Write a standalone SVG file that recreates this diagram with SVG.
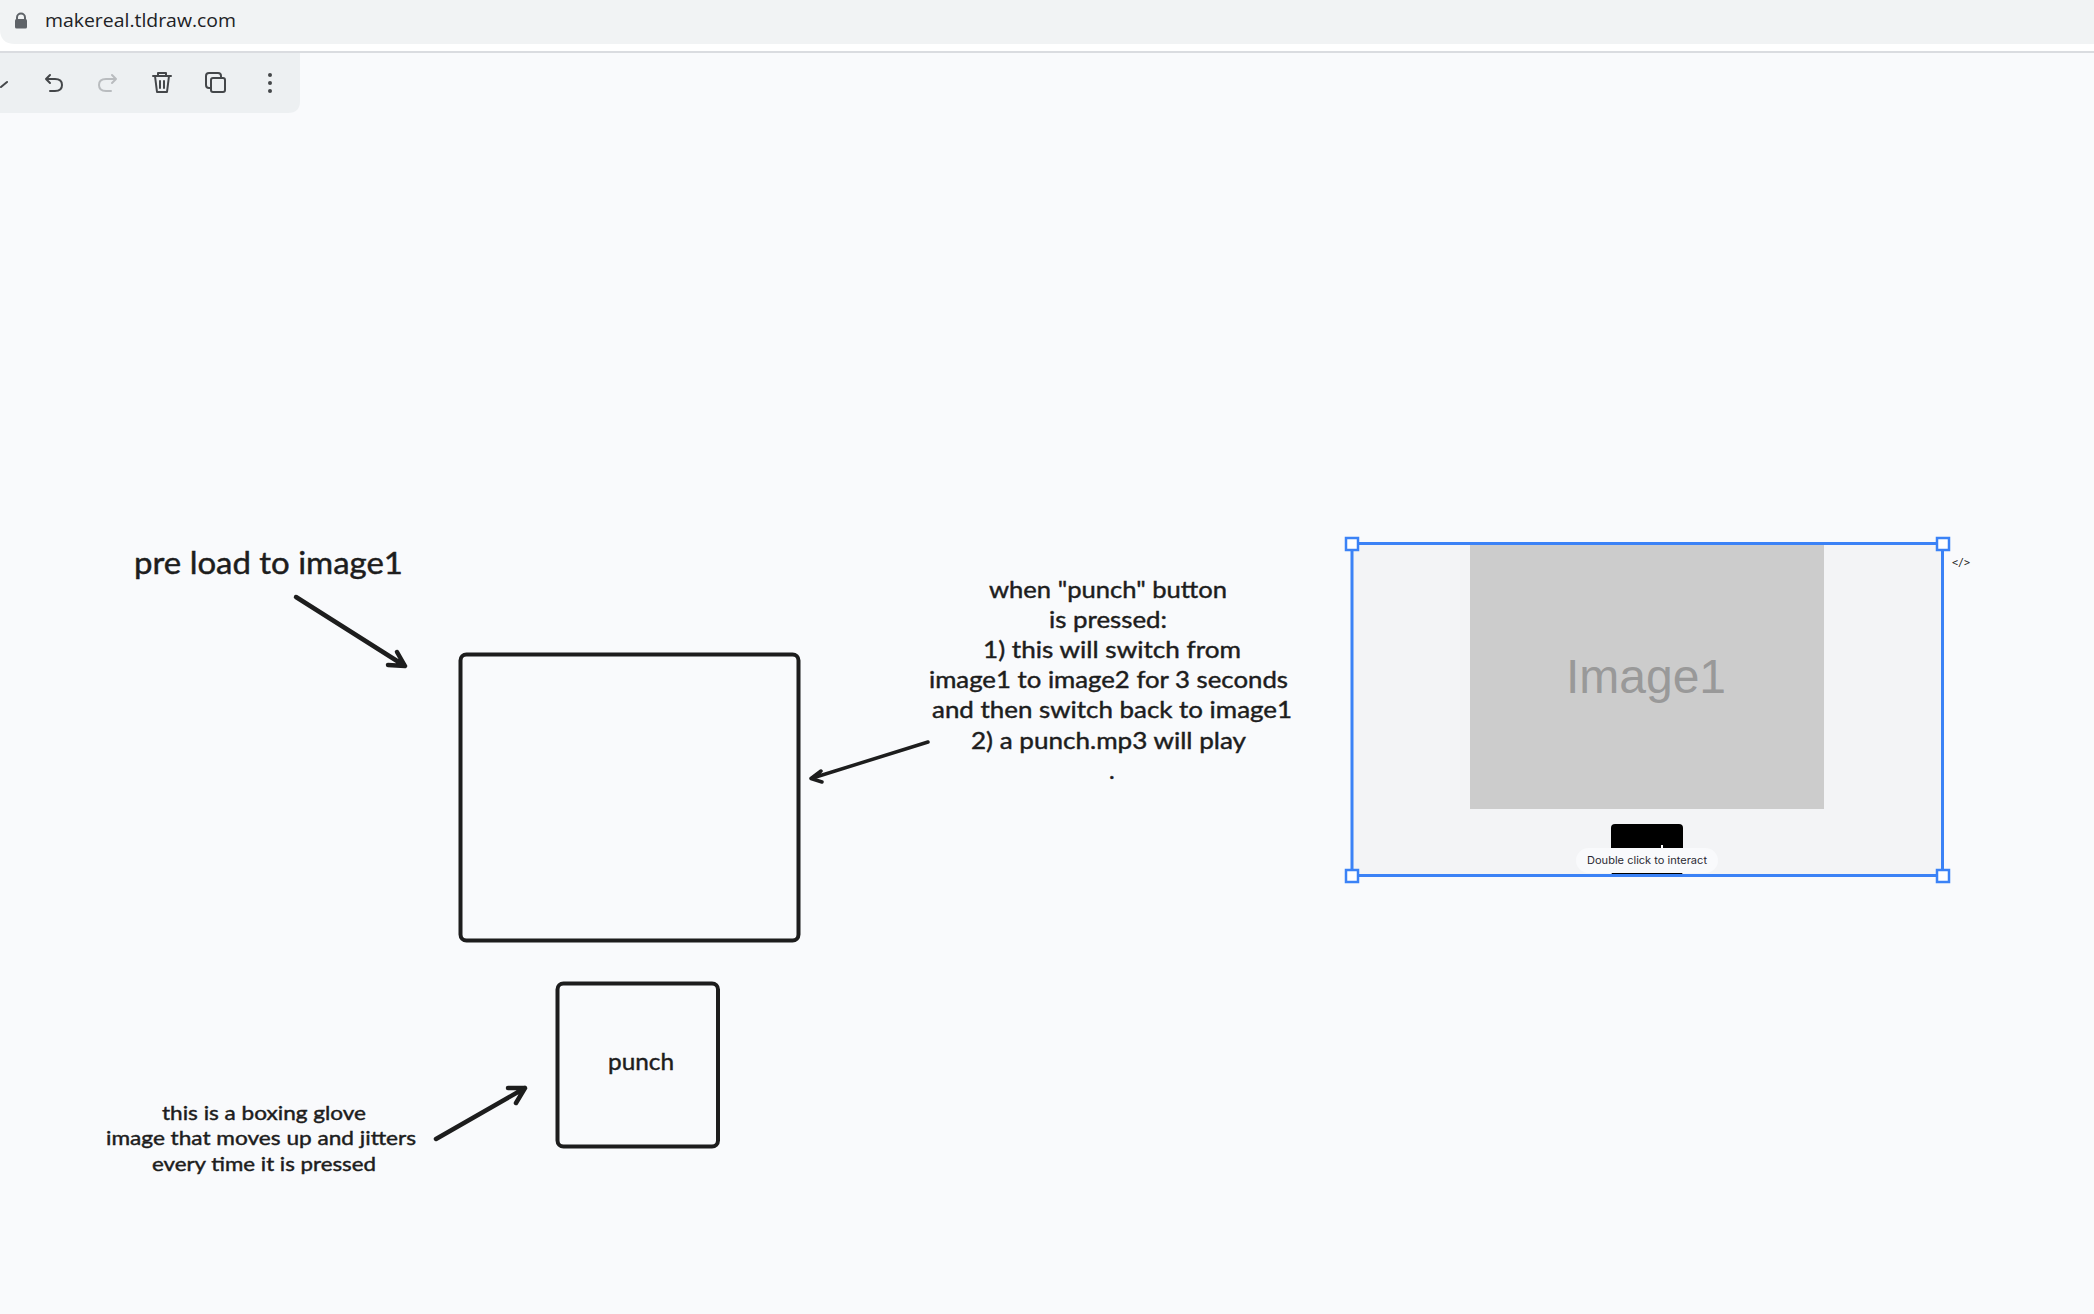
<svg xmlns="http://www.w3.org/2000/svg" width="2094" height="1314" viewBox="0 0 2094 1314">
<style>
.hand{font-family:"Lato","Noto Sans",sans-serif;font-weight:400;fill:#1d1d1d;stroke:#1d1d1d;stroke-width:.45;text-anchor:start}
.box{fill:none;stroke:#1d1d1d;stroke-width:4;stroke-linejoin:round}
.arr{fill:none;stroke:#1d1d1d;stroke-linecap:round;stroke-linejoin:round}
.ico{fill:none;stroke:#44474a;stroke-width:2;stroke-linecap:round;stroke-linejoin:round}
.hdl{fill:#fff;stroke:#3b82f6;stroke-width:2.5}
</style>
<rect width="2094" height="1314" fill="#f9fafc"/>
<g id="browser-bar">
<rect y="0" width="2094" height="51" fill="#fff"/>
<rect y="51" width="2094" height="2" fill="#dadce0"/>
<path d="M0 0H2094V44H15Q0 44 0 29Z" fill="#f1f3f4"/>
<path d="M17 20v-2.500a4 4 0 0 1 8 0V20" fill="none" stroke="#5f6368" stroke-width="2"/>
<rect x="15" y="19" width="12" height="9.500" rx="1.500" fill="#5f6368"/>
<text x="45" y="26.500" font-family="Open Sans,Noto Sans,sans-serif" font-size="19" fill="#202124" textLength="191" lengthAdjust="spacingAndGlyphs">makereal.tldraw.com</text>
</g>
<g id="toolbar">
<path d="M0 53H300V101Q300 113 288 113H0Z" fill="#edf0f2"/>
<path class="ico" d="M1 87L7 82"/>
<path class="ico" d="M50 75L46 79L50 83M46 79H55Q62 79 62 85Q62 91 55 91H50"/>
<path class="ico" style="stroke:#b9bcbf" d="M112 75L116 79L112 83M116 79H106Q99 79 99 85Q99 91 106 91H111"/>
<path class="ico" d="M153 76H171M158 76V73H166V76M155 76L157 92H167L169 76M160 81V88M164 81V88"/>
<rect class="ico" x="211" y="78" width="14" height="14" rx="2"/>
<path class="ico" d="M211 88H209Q206 88 206 85V76Q206 73 209 73H218Q221 73 221 76V78"/>
<g fill="#44474a"><circle cx="270" cy="75" r="2"/><circle cx="270" cy="83" r="2"/><circle cx="270" cy="91" r="2"/></g>
</g>
<g id="connectors">
<path class="arr" stroke-width="4.500" d="M296 597L405 666M397 652L405 666L388 665"/>
<path class="arr" stroke-width="3.500" d="M928 742L811 778.500M821 771L811 778.500L822 782"/>
<path class="arr" stroke-width="4.500" d="M436 1139L525 1088M508 1088L525 1088L516 1103"/>
</g>
<g id="label-preload"><text class="hand" x="134" y="574" font-size="30" textLength="269" lengthAdjust="spacingAndGlyphs">pre load to image1</text></g>
<g id="image-box"><rect class="box" x="460.500" y="654.500" width="338" height="286" rx="6"/></g>
<g id="punch-button"><rect class="box" x="557.500" y="983.500" width="160.500" height="163" rx="6"/>
<text class="hand" x="608" y="1070" font-size="24" textLength="66" lengthAdjust="spacingAndGlyphs">punch</text></g>
<g id="label-glove">
<text class="hand" x="162" y="1120" font-size="20" textLength="204" lengthAdjust="spacingAndGlyphs">this is a boxing glove</text>
<text class="hand" x="106" y="1145" font-size="20" textLength="310" lengthAdjust="spacingAndGlyphs">image that moves up and jitters</text>
<text class="hand" x="152" y="1171" font-size="20" textLength="224" lengthAdjust="spacingAndGlyphs">every time it is pressed</text>
</g>
<g id="label-behaviour">
<text class="hand" x="989" y="598" font-size="24" textLength="238" lengthAdjust="spacingAndGlyphs">when "punch" button</text>
<text class="hand" x="1049" y="628" font-size="24" textLength="118" lengthAdjust="spacingAndGlyphs">is pressed:</text>
<text class="hand" x="983" y="658" font-size="24" textLength="258" lengthAdjust="spacingAndGlyphs">1) this will switch from</text>
<text class="hand" x="929" y="688" font-size="24" textLength="359" lengthAdjust="spacingAndGlyphs">image1 to image2 for 3 seconds</text>
<text class="hand" x="932" y="718" font-size="24" textLength="360" lengthAdjust="spacingAndGlyphs">and then switch back to image1</text>
<text class="hand" x="971" y="749" font-size="24" textLength="275" lengthAdjust="spacingAndGlyphs">2) a punch.mp3 will play</text>
<text class="hand" x="1109" y="779" font-size="24">.</text>
</g>
<g id="preview">
<rect x="1351" y="543" width="591" height="333" fill="#f3f4f6"/>
<rect x="1470" y="543" width="354" height="266" fill="#cccccc"/>
<text x="1646" y="693" font-family="Liberation Sans,Arial,sans-serif" font-size="48" fill="#999999" text-anchor="middle">Image1</text>
<rect x="1611" y="824" width="72" height="51" rx="4" fill="#000"/>
<rect x="1661" y="845" width="2" height="4" fill="#fff"/>
<rect x="1576" y="848" width="142" height="25" rx="12.500" fill="#f9fafc"/>
<text x="1647" y="864" font-family="Inter,Noto Sans,sans-serif" font-size="10.500" fill="#2a2a33" text-anchor="middle" textLength="120" lengthAdjust="spacingAndGlyphs">Double click to interact</text>
<rect x="1352" y="543.500" width="590.500" height="332" fill="none" stroke="#3b82f6" stroke-width="3"/>
<rect class="hdl" x="1346" y="538" width="12" height="12"/>
<rect class="hdl" x="1937" y="538" width="12" height="12"/>
<rect class="hdl" x="1346" y="870" width="12" height="12"/>
<rect class="hdl" x="1937" y="870" width="12" height="12"/>
<text x="1961" y="566" font-family="DejaVu Sans Mono,monospace" font-size="10" fill="#1d1d1d" text-anchor="middle">&lt;/&gt;</text>
</g>
</svg>
